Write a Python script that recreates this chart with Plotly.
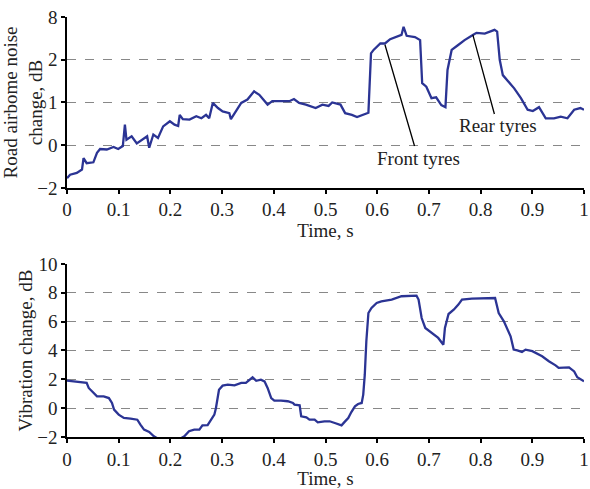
import plotly.graph_objects as go
from plotly.subplots import make_subplots

# Top chart: y values are given in tick-slot units (slots labelled −2, 0, 1, 2, 8)
noise_t = [0.0, 0.006, 0.019, 0.029, 0.032, 0.038, 0.051, 0.058, 0.064, 0.077, 0.09, 0.099,
           0.108, 0.112, 0.115, 0.125, 0.135, 0.147, 0.155, 0.159, 0.167, 0.176, 0.186, 0.199,
           0.208, 0.215, 0.218, 0.224, 0.237, 0.25, 0.26, 0.269, 0.275, 0.282, 0.292, 0.301,
           0.314, 0.317, 0.327, 0.337, 0.349, 0.362, 0.372, 0.388, 0.397, 0.413, 0.43, 0.439,
           0.449, 0.462, 0.481, 0.494, 0.506, 0.513, 0.529, 0.538, 0.551, 0.561, 0.572, 0.583,
           0.588, 0.593, 0.606, 0.615, 0.625, 0.638, 0.647, 0.651, 0.657, 0.673, 0.683, 0.687,
           0.695, 0.705, 0.714, 0.724, 0.732, 0.736, 0.744, 0.756, 0.769, 0.785, 0.792, 0.808,
           0.82, 0.827, 0.832, 0.837, 0.843, 0.853, 0.865, 0.878, 0.891, 0.901, 0.913, 0.926,
           0.942, 0.955, 0.968, 0.981, 0.993, 1.0]
noise_v = [0.23, 0.31, 0.35, 0.43, 0.70, 0.58, 0.60, 0.82, 0.91, 0.90, 0.96, 0.91,
           0.98, 1.48, 1.13, 1.21, 1.04, 1.13, 1.21, 0.94, 1.25, 1.17, 1.44, 1.56,
           1.48, 1.45, 1.71, 1.61, 1.60, 1.68, 1.63, 1.71, 1.63, 1.99, 1.87, 1.79,
           1.75, 1.61, 1.80, 1.99, 2.07, 2.26, 2.18, 1.95, 2.03, 2.03, 2.03, 2.08,
           1.99, 1.95, 1.87, 1.95, 1.92, 2.00, 1.95, 1.75, 1.71, 1.66, 1.71, 1.76,
           3.15, 3.23, 3.38, 3.38, 3.48, 3.54, 3.58, 3.77, 3.56, 3.53, 3.46, 2.45,
           2.37, 2.10, 2.12, 1.94, 1.89, 2.76, 3.23, 3.34, 3.46, 3.58, 3.63, 3.61,
           3.66, 3.70, 3.66, 3.00, 2.64, 2.49, 2.33, 2.10, 1.83, 1.80, 1.89, 1.63,
           1.63, 1.67, 1.63, 1.83, 1.87, 1.83]
noise_tick_pos = [0, 1, 2, 3, 4]
noise_tick_text = ["−2", "0", "1", "2", "8"]

vib_t = [0.0, 0.019, 0.038, 0.042, 0.052, 0.058, 0.071, 0.081, 0.087, 0.091, 0.1, 0.11,
         0.123, 0.136, 0.142, 0.149, 0.159, 0.168, 0.18, 0.2, 0.215, 0.227, 0.236, 0.246,
         0.256, 0.262, 0.272, 0.278, 0.285, 0.288, 0.291, 0.294, 0.301, 0.311, 0.324, 0.337,
         0.346, 0.353, 0.359, 0.366, 0.375, 0.382, 0.388, 0.395, 0.401, 0.414, 0.427, 0.437,
         0.44, 0.45, 0.453, 0.463, 0.469, 0.479, 0.485, 0.498, 0.508, 0.518, 0.531, 0.537,
         0.544, 0.55, 0.557, 0.563, 0.57, 0.573, 0.576, 0.579, 0.583, 0.589, 0.599, 0.608,
         0.628, 0.647, 0.66, 0.676, 0.68, 0.686, 0.693, 0.705, 0.718, 0.728, 0.731, 0.738,
         0.748, 0.757, 0.764, 0.783, 0.803, 0.828, 0.835, 0.845, 0.858, 0.864, 0.871, 0.88,
         0.887, 0.9, 0.919, 0.932, 0.945, 0.951, 0.971, 0.981, 0.987, 1.0]
vib_v = [1.91, 1.82, 1.75, 1.40, 1.05, 0.82, 0.82, 0.70, 0.36, -0.10, -0.45, -0.68,
         -0.72, -0.80, -1.14, -1.49, -1.65, -1.95, -2.2, -2.3, -2.2, -1.95, -1.60, -1.49,
         -1.49, -1.19, -1.17, -0.80, -0.45, 0.0, 0.70, 1.28, 1.56, 1.63, 1.58, 1.75,
         1.75, 1.98, 2.14, 1.90, 1.98, 1.86, 1.40, 0.70, 0.52, 0.52, 0.48, 0.36,
         0.25, 0.20, -0.57, -0.64, -0.80, -0.80, -0.98, -0.91, -0.91, -1.03, -1.19, -0.95,
         -0.68, -0.27, 0.13, 0.29, 0.36, 0.94, 2.32, 4.64, 6.60, 6.95, 7.30, 7.41,
         7.53, 7.76, 7.80, 7.80, 7.53, 6.25, 5.56, 5.21, 4.87, 4.40, 5.56, 6.53,
         6.83, 7.18, 7.53, 7.60, 7.60, 7.64, 6.60, 6.02, 4.98, 4.06, 4.00, 3.90,
         4.06, 3.95, 3.60, 3.25, 2.97, 2.79, 2.83, 2.55, 2.14, 1.86]

x_ticks = [0, 0.1, 0.2, 0.3, 0.4, 0.5, 0.6, 0.7, 0.8, 0.9, 1]

LINE = "#2B3494"
FONT = "Liberation Serif"
TXT = "#222"

fig = make_subplots(rows=2, cols=1, vertical_spacing=0.181)
fig.add_trace(go.Scatter(x=noise_t, y=noise_v, mode="lines",
                         line=dict(color=LINE, width=2.3), showlegend=False), row=1, col=1)
fig.add_trace(go.Scatter(x=vib_t, y=vib_v, mode="lines",
                         line=dict(color=LINE, width=2.3), showlegend=False), row=2, col=1)

axis_common = dict(showline=True, linecolor="black", linewidth=1.5, ticks="outside",
                   tickcolor="black", ticklen=4, tickwidth=1.5, automargin=False,
                   ticklabeloverflow="allow",
                   tickfont=dict(family=FONT, size=19, color=TXT), zeroline=False)
for r in (1, 2):
    fig.update_xaxes(range=[0, 1], tickvals=x_ticks, showgrid=False,
                     title=dict(text="Time, s", font=dict(family=FONT, size=19, color=TXT),
                                standoff=0),
                     row=r, col=1, **axis_common)

fig.update_yaxes(range=[0, 4], tickvals=noise_tick_pos, ticktext=noise_tick_text,
                 showgrid=True, gridcolor="#888", griddash="dash", gridwidth=1,
                 title=dict(text="Road airbome noise<br>change, dB",
                            font=dict(family=FONT, size=19, color=TXT), standoff=0),
                 row=1, col=1, **axis_common)
fig.update_yaxes(range=[-2, 10], tickvals=[-2, 0, 2, 4, 6, 8, 10],
                 showgrid=True, gridcolor="#888", griddash="dash", gridwidth=1,
                 title=dict(text="Vibration change, dB",
                            font=dict(family=FONT, size=19, color=TXT), standoff=0),
                 row=2, col=1, **axis_common)

fig.update_layout(yaxis=dict(domain=[0.593, 1.0]), yaxis2=dict(domain=[0.0, 0.412]))

for txt, tip, lab in [("Front tyres", (0.615, 3.35), (0.679, 0.70)),
                      ("Rear tyres", (0.785, 3.58), (0.833, 1.45))]:
    fig.add_annotation(x=tip[0], y=tip[1], ax=lab[0], ay=lab[1], axref="x", ayref="y",
                       xref="x", yref="y", text=txt, showarrow=True, arrowhead=0,
                       arrowwidth=1.3, arrowcolor="black", standoff=0, startstandoff=0,
                       font=dict(family=FONT, size=19, color=TXT))

fig.update_layout(width=590, height=489, margin=dict(l=67, r=6, t=17, b=52),
                  plot_bgcolor="white", paper_bgcolor="white")

fig.write_html("out.html", config={"displayModeBar": False},
               post_script="document.body.style.margin='0';")
